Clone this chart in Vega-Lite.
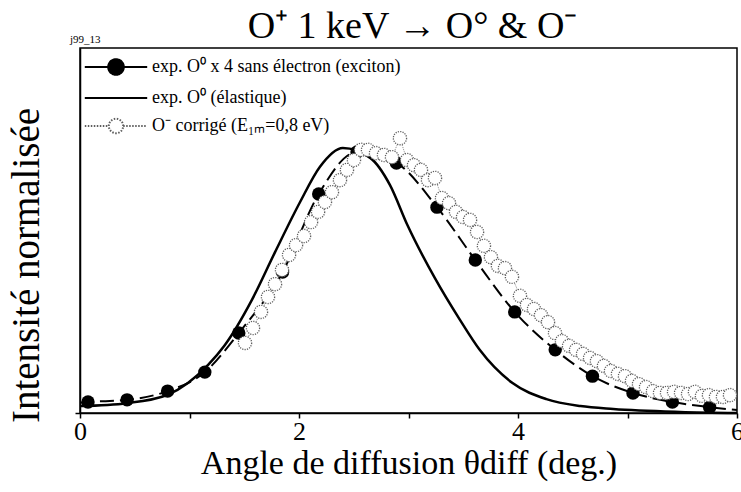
{
  "$schema": "https://vega.github.io/schema/vega-lite/v6.json",
  "width": 657,
  "height": 365,
  "autosize": {"type": "none"},
  "padding": {"left": 80, "top": 48, "right": 4, "bottom": 79},
  "background": "white",
  "config": {
    "font": "Liberation Serif",
    "view": {"stroke": "black", "strokeWidth": 1.5},
    "legend": {"labelFont": "Liberation Serif", "titleFont": "Liberation Serif"},
    "axis": {"grid": false, "domainColor": "black", "tickColor": "black", "labelColor": "black", "titleColor": "black", "labelFont": "Liberation Serif", "titleFont": "Liberation Serif", "titleFontWeight": "normal", "domainWidth": 1.5, "tickWidth": 1.5}
  },
  "title": {"text": "O⁺ 1 keV → O° & O⁻", "font": "Liberation Serif", "fontSize": 38, "fontWeight": "normal", "color": "black", "anchor": "middle", "dx": 4, "offset": -12},
  "datasets": {
    "exciton": [
      {"x": 0.073, "y": 0.030}, {"x": 0.43, "y": 0.036}, {"x": 0.80, "y": 0.060}, {"x": 1.14, "y": 0.112},
      {"x": 1.45, "y": 0.219}, {"x": 1.85, "y": 0.386}, {"x": 2.18, "y": 0.600}, {"x": 2.53, "y": 0.715},
      {"x": 2.89, "y": 0.685}, {"x": 3.26, "y": 0.564}, {"x": 3.61, "y": 0.419}, {"x": 3.97, "y": 0.277},
      {"x": 4.34, "y": 0.173}, {"x": 4.68, "y": 0.101}, {"x": 5.05, "y": 0.055}, {"x": 5.41, "y": 0.030},
      {"x": 5.75, "y": 0.016}
    ],
    "fit": [
      {"x": 0.0, "y": 0.028}, {"x": 0.073, "y": 0.030}, {"x": 0.43, "y": 0.036}, {"x": 0.80, "y": 0.060}, {"x": 1.14, "y": 0.112},
      {"x": 1.45, "y": 0.219}, {"x": 1.85, "y": 0.386}, {"x": 2.18, "y": 0.600}, {"x": 2.53, "y": 0.715},
      {"x": 2.89, "y": 0.685}, {"x": 3.26, "y": 0.564}, {"x": 3.61, "y": 0.419}, {"x": 3.97, "y": 0.277},
      {"x": 4.34, "y": 0.173}, {"x": 4.68, "y": 0.101}, {"x": 5.05, "y": 0.055}, {"x": 5.41, "y": 0.030},
      {"x": 5.75, "y": 0.016}, {"x": 6.0, "y": 0.008}
    ],
    "elastic": [
      {"x": 0.0, "y": 0.019}, {"x": 0.43, "y": 0.027}, {"x": 0.80, "y": 0.050}, {"x": 1.17, "y": 0.132},
      {"x": 1.32, "y": 0.185}, {"x": 1.57, "y": 0.310}, {"x": 1.78, "y": 0.440}, {"x": 2.01, "y": 0.578},
      {"x": 2.19, "y": 0.674}, {"x": 2.40, "y": 0.726}, {"x": 2.65, "y": 0.699}, {"x": 2.83, "y": 0.625},
      {"x": 2.99, "y": 0.515}, {"x": 3.24, "y": 0.370}, {"x": 3.47, "y": 0.255}, {"x": 3.65, "y": 0.173},
      {"x": 3.95, "y": 0.082}, {"x": 4.26, "y": 0.038}, {"x": 4.57, "y": 0.019}, {"x": 4.87, "y": 0.011},
      {"x": 5.48, "y": 0.003}, {"x": 6.0, "y": 0.0}
    ],
    "corrige": [
      {"x": 1.507, "y": 0.192}, {"x": 1.580, "y": 0.233}, {"x": 1.653, "y": 0.277}, {"x": 1.717, "y": 0.318},
      {"x": 1.781, "y": 0.353}, {"x": 1.845, "y": 0.392}, {"x": 1.909, "y": 0.433}, {"x": 1.973, "y": 0.460},
      {"x": 2.046, "y": 0.485}, {"x": 2.110, "y": 0.523}, {"x": 2.174, "y": 0.551}, {"x": 2.237, "y": 0.578},
      {"x": 2.301, "y": 0.605}, {"x": 2.374, "y": 0.638}, {"x": 2.438, "y": 0.666}, {"x": 2.502, "y": 0.693},
      {"x": 2.566, "y": 0.721}, {"x": 2.630, "y": 0.721}, {"x": 2.703, "y": 0.712}, {"x": 2.776, "y": 0.707},
      {"x": 2.849, "y": 0.701}, {"x": 2.922, "y": 0.753}, {"x": 2.986, "y": 0.693}, {"x": 3.050, "y": 0.679},
      {"x": 3.114, "y": 0.666}, {"x": 3.178, "y": 0.638}, {"x": 3.242, "y": 0.644}, {"x": 3.306, "y": 0.589},
      {"x": 3.370, "y": 0.575}, {"x": 3.434, "y": 0.551}, {"x": 3.498, "y": 0.537}, {"x": 3.562, "y": 0.529},
      {"x": 3.626, "y": 0.496}, {"x": 3.689, "y": 0.458}, {"x": 3.753, "y": 0.427}, {"x": 3.817, "y": 0.403},
      {"x": 3.881, "y": 0.397}, {"x": 3.945, "y": 0.373}, {"x": 4.018, "y": 0.321}, {"x": 4.082, "y": 0.296},
      {"x": 4.146, "y": 0.285}, {"x": 4.210, "y": 0.268}, {"x": 4.274, "y": 0.249}, {"x": 4.338, "y": 0.219},
      {"x": 4.402, "y": 0.197}, {"x": 4.466, "y": 0.184}, {"x": 4.530, "y": 0.173}, {"x": 4.594, "y": 0.162},
      {"x": 4.658, "y": 0.151}, {"x": 4.721, "y": 0.142}, {"x": 4.785, "y": 0.129}, {"x": 4.849, "y": 0.115},
      {"x": 4.913, "y": 0.107}, {"x": 4.977, "y": 0.101}, {"x": 5.041, "y": 0.088}, {"x": 5.105, "y": 0.079},
      {"x": 5.169, "y": 0.071}, {"x": 5.233, "y": 0.060}, {"x": 5.297, "y": 0.055}, {"x": 5.361, "y": 0.055},
      {"x": 5.425, "y": 0.058}, {"x": 5.489, "y": 0.055}, {"x": 5.553, "y": 0.052}, {"x": 5.616, "y": 0.058},
      {"x": 5.680, "y": 0.047}, {"x": 5.744, "y": 0.049}, {"x": 5.808, "y": 0.044}, {"x": 5.872, "y": 0.044},
      {"x": 5.936, "y": 0.049}
    ],
    "tag": [{"label": "j99_13"}]
  },
  "layer": [
    {
      "data": {"name": "fit"},
      "mark": {"type": "line", "color": "black", "strokeWidth": 2, "strokeDash": [14, 6], "interpolate": "monotone"},
      "encoding": {
        "x": {
          "field": "x", "type": "quantitative",
          "scale": {"domain": [0, 6], "nice": false},
          "axis": {
            "values": [0, 1, 2, 3, 4, 5, 6], "format": "d",
            "labelExpr": "datum.value % 2 == 0 ? datum.label : ''",
            "tickSize": 5, "labelFontSize": 26, "labelPadding": 0, "labelFlush": false,
            "title": "Angle de diffusion θdiff (deg.)", "titleFontSize": 34, "titlePadding": 2
          }
        },
        "y": {
          "field": "y", "type": "quantitative",
          "scale": {"domain": [0, 1], "nice": false},
          "axis": {
            "values": [0], "labels": false, "tickSize": 5,
            "title": "Intensité normalisée", "titleFontSize": 39, "titlePadding": 28, "titleY": 217
          }
        }
      }
    },
    {
      "data": {"name": "elastic"},
      "mark": {"type": "line", "color": "black", "strokeWidth": 2.5, "interpolate": "monotone"},
      "encoding": {"x": {"field": "x", "type": "quantitative"}, "y": {"field": "y", "type": "quantitative"}}
    },
    {
      "data": {"name": "exciton"},
      "mark": {"type": "point", "shape": "circle", "filled": true, "color": "black", "size": 180, "opacity": 1},
      "encoding": {"x": {"field": "x", "type": "quantitative"}, "y": {"field": "y", "type": "quantitative"}}
    },
    {
      "data": {"name": "corrige"},
      "mark": {"type": "line", "color": "#8c8c8c", "strokeWidth": 1, "strokeDash": [1, 1]},
      "encoding": {"x": {"field": "x", "type": "quantitative"}, "y": {"field": "y", "type": "quantitative"}}
    },
    {
      "data": {"name": "corrige"},
      "mark": {"type": "point", "shape": "circle", "filled": false, "fill": "white", "fillOpacity": 1, "stroke": "#5e5e5e", "strokeWidth": 1.3, "strokeDash": [1.2, 1.2], "size": 175, "opacity": 1},
      "encoding": {"x": {"field": "x", "type": "quantitative"}, "y": {"field": "y", "type": "quantitative"}}
    },
    {
      "data": {"name": "exciton"},
      "transform": [{"filter": "false"}],
      "mark": {"type": "point", "filled": true, "opacity": 1, "size": 576},
      "encoding": {
        "x": {"field": "x", "type": "quantitative"},
        "y": {"field": "y", "type": "quantitative"},
        "shape": {
          "field": "s", "type": "nominal",
          "scale": {
            "domain": ["exp. O⁰ x 4 sans électron (exciton)", "exp. O⁰ (élastique)", "O⁻ corrigé (E₁ₘ=0,8 eV)"],
            "range": [
              "M-2.6,0H-0.65M0.65,0H2.6M-0.65,0A0.65,0.65,0,1,1,0.65,0A0.65,0.65,0,1,1,-0.65,0Z",
              "M-2.6,0H2.6",
              "M-2.6,0H-0.6M0.6,0H2.6M-0.6,0A0.6,0.6,0,1,1,0.6,0A0.6,0.6,0,1,1,-0.6,0Z"
            ]
          },
          "legend": {
            "title": null, "orient": "none", "legendX": 0, "legendY": 6,
            "symbolSize": 576,
            "symbolOffset": 23, "labelOffset": 23, "rowPadding": 6,
            "labelFont": "Liberation Serif", "labelFontSize": 18, "labelColor": "black", "labelLimit": 400,
            "symbolStrokeWidth": 2
          }
        },
        "fill": {
          "field": "s", "type": "nominal",
          "scale": {
            "domain": ["exp. O⁰ x 4 sans électron (exciton)", "exp. O⁰ (élastique)", "O⁻ corrigé (E₁ₘ=0,8 eV)"],
            "range": ["black", "white", "white"]
          }
        },
        "stroke": {
          "field": "s", "type": "nominal",
          "scale": {
            "domain": ["exp. O⁰ x 4 sans électron (exciton)", "exp. O⁰ (élastique)", "O⁻ corrigé (E₁ₘ=0,8 eV)"],
            "range": ["black", "black", "#5e5e5e"]
          }
        },
        "strokeDash": {
          "field": "s", "type": "nominal",
          "scale": {
            "domain": ["exp. O⁰ x 4 sans électron (exciton)", "exp. O⁰ (élastique)", "O⁻ corrigé (E₁ₘ=0,8 eV)"],
            "range": [[1, 0], [1, 0], [1.5, 1.5]]
          }
        }
      }
    },
    {
      "data": {"name": "tag"},
      "mark": {"type": "text", "clip": false, "font": "Liberation Serif", "fontSize": 11, "align": "left", "baseline": "bottom", "dx": -10, "dy": -3, "color": "black"},
      "encoding": {"x": {"datum": 0}, "y": {"datum": 1}, "text": {"field": "label", "type": "nominal"}}
    }
  ]
}
